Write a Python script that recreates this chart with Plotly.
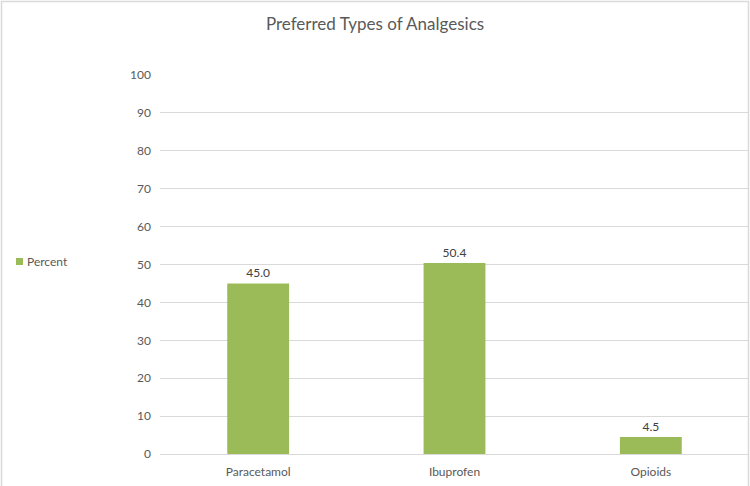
import plotly.graph_objects as go

categories = ["Paracetamol", "Ibuprofen", "Opioids"]
percent = [45.0, 50.4, 4.5]
y_ticks = [0, 10, 20, 30, 40, 50, 60, 70, 80, 90, 100]
series_name = "Percent"
bar_color = "#9BBB59"

W, H = 750, 486
L, R, T, B = 160, 1, 75, 32
pw = W - L - R
ph = H - T - B

fig = go.Figure()
fig.add_trace(go.Bar(
    x=categories, y=percent, name=series_name,
    marker=dict(color=bar_color, line=dict(width=0)),
    texttemplate="%{y:.1f}", textposition="outside",
    textfont=dict(size=12, color="#404040", family="Lato"),
    cliponaxis=False, showlegend=False,
))

def px2x(px):
    return (px - L) / pw

def py2y(py):
    return (H - B - py) / ph

# outer chart border
fig.add_shape(type="rect", xref="paper", yref="paper",
              x0=px2x(1.5), x1=px2x(748.5), y0=py2y(490), y1=py2y(1.5),
              line=dict(color="#D9D9D9", width=1.5), layer="below")

# legend (left side): small square + label
fig.add_shape(type="rect", xref="paper", yref="paper",
              x0=px2x(16), x1=px2x(23), y0=py2y(265), y1=py2y(258),
              line=dict(width=0), fillcolor=bar_color)
fig.add_annotation(text=series_name, xref="paper", yref="paper",
                   x=px2x(25), y=py2y(261.5), xanchor="left", yanchor="middle",
                   showarrow=False, font=dict(size=12, color="#595959", family="Lato"))

fig.update_layout(
    width=W, height=H,
    margin=dict(l=L, r=R, t=T, b=B),
    paper_bgcolor="white", plot_bgcolor="white",
    font=dict(family="Lato", color="#595959", size=12),
    title=dict(text="Preferred Types of Analgesics", x=0.5, xref="container",
               y=1 - 24 / H, yref="container", yanchor="middle", xanchor="center",
               font=dict(size=17, color="#595959", family="Lato")),
    bargap=0.685,
    showlegend=False,
    xaxis=dict(showgrid=False, showline=False, ticks="", ticklabelstandoff=9,
               tickfont=dict(size=12, color="#595959")),
    yaxis=dict(range=[0, 100], tickvals=y_ticks, showgrid=True, gridcolor="#D9D9D9",
               gridwidth=1, zeroline=True, zerolinecolor="#D9D9D9", zerolinewidth=1,
               showline=False, ticks="", ticklabelstandoff=8,
               tickfont=dict(size=12, color="#595959")),
)

fig.write_html("out.html")
